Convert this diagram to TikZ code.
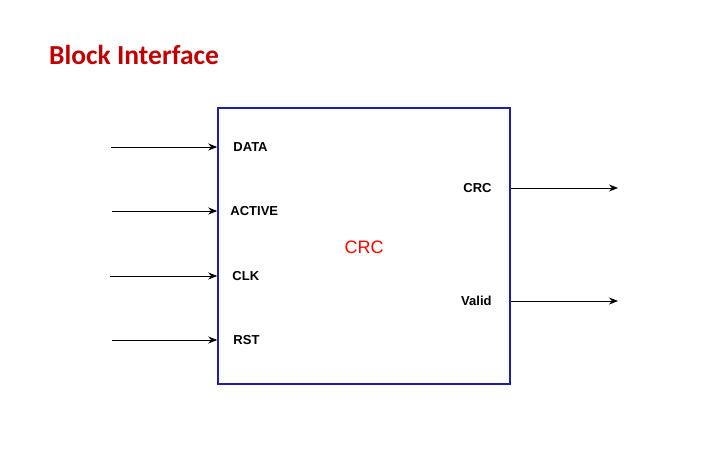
\documentclass[tikz,border=0pt]{standalone}
\usepackage{fontspec}
\setmainfont{Liberation Sans}
\newfontfamily\titlefont{Carlito}
\usetikzlibrary{arrows.meta,positioning}
\definecolor{boxblue}{RGB}{30,30,170}
\definecolor{titlered}{RGB}{192,0,0}

\begin{document}
\begin{tikzpicture}[x=1pt,y=-1pt,
    block/.style={draw=boxblue, line width=1.5pt, minimum width=292pt, minimum height=276pt, inner sep=0pt},
    port/.style={font=\fontsize{13}{13}\selectfont\bfseries, inner sep=0pt},
    signal/.style={draw=black, line width=0.9pt, -{Stealth[length=9pt,width=7pt]}}
    ]
    \useasboundingbox (0,0) rectangle (711,456);
    \node[font=\titlefont\fontsize{27.5}{27.5}\selectfont\bfseries, text=titlered, anchor=base west, inner sep=0pt] (title) at (49,64) {Block Interface};
    
    \node[block] (crc) at (364,246) {};
    \node[text=red, font=\fontsize{18}{18}\selectfont] (name) at ([yshift=-1.5pt]crc.center) {CRC};
    
    % inputs on the left side
    \foreach \sig/\y/\x/\dx in {DATA/147/111/16, ACTIVE/211/112/13, CLK/276/110/15, RST/340/112/16} {
        \coordinate (in\sig) at (\x,\y);
        \node[port, anchor=west, xshift=\dx pt] (l\sig) at (crc.west |- in\sig) {\sig};
        \draw[signal] (in\sig) -- (crc.west |- in\sig);
    }
    
    % outputs on the right side
    \foreach \sig/\y in {CRC/188, Valid/301} {
        \coordinate (out\sig) at (618,\y);
        \node[port, anchor=east, xshift=-19pt] (l\sig) at (crc.east |- out\sig) {\sig};
        \draw[signal] (crc.east |- out\sig) -- (out\sig);
    }
    
\end{tikzpicture}
\end{document}
